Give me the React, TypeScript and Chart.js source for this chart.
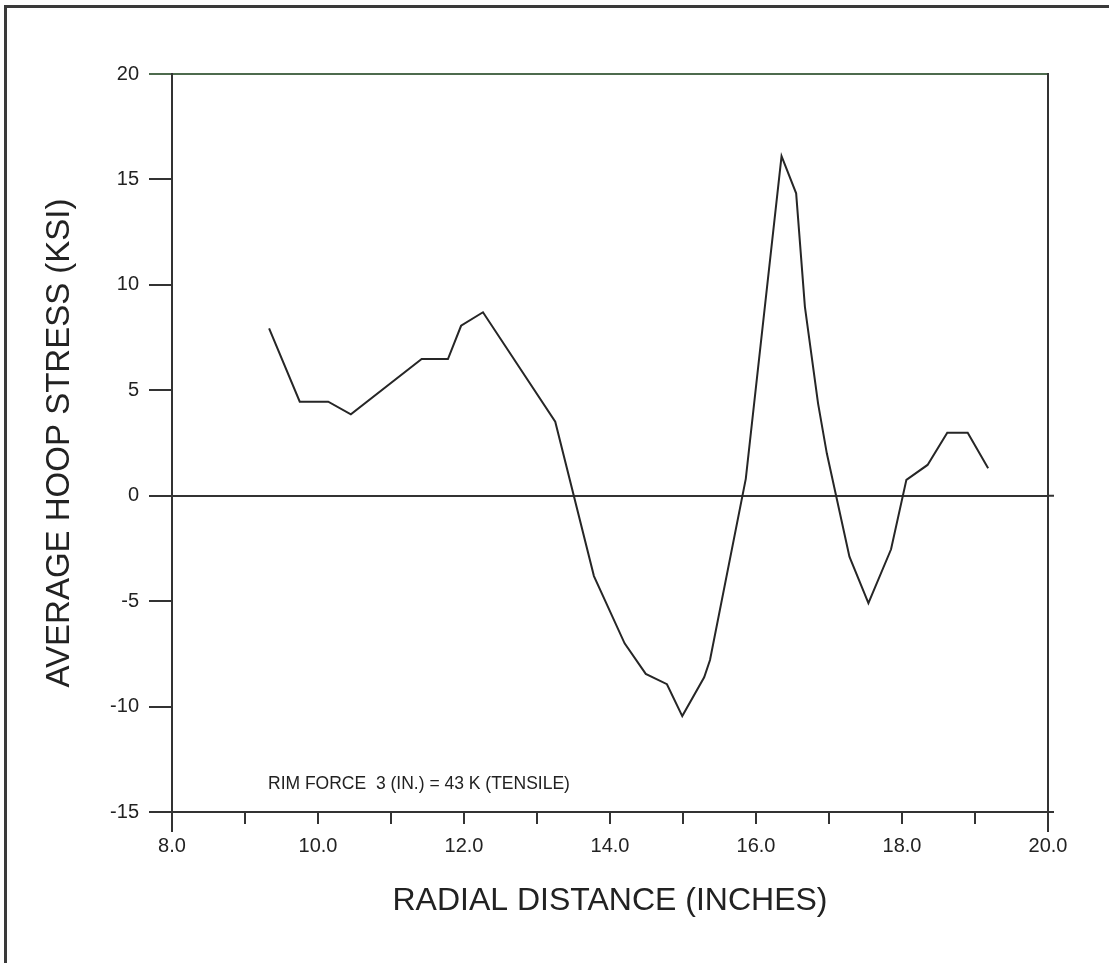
import React, { useEffect, useRef } from 'react';
import { Chart, registerables } from 'chart.js';

Chart.register(...registerables);

const radialDistance = [9.33, 9.75, 10.14, 10.45, 11.42, 11.78, 11.96, 12.26, 13.25, 13.78, 14.2, 14.49, 14.78, 14.99, 15.29, 15.37, 15.86, 16.35, 16.55, 16.67, 16.85, 16.97, 17.28, 17.54, 17.85, 18.06, 18.35, 18.62, 18.9, 19.18];
const hoopStress = [7.94, 4.46, 4.46, 3.86, 6.48, 6.48, 8.06, 8.7, 3.51, -3.81, -7.0, -8.45, -8.94, -10.45, -8.61, -7.79, 0.8, 16.1, 14.34, 8.96, 4.38, 2.01, -2.89, -5.1, -2.54, 0.75, 1.46, 2.99, 2.99, 1.3];

const xRange = [8, 20];
const yRange = [-15, 20];
const xLabelValues = [8, 10, 12, 14, 16, 18, 20];

const xTitle = 'RADIAL DISTANCE (INCHES)';
const yTitle = 'AVERAGE HOOP STRESS (KSI)';
const noteText = 'RIM FORCE  3 (IN.) = 43 K (TENSILE)';
const notePos = { x: 9.315, y: -13.7 };

const FONT = '"Liberation Sans", Arial, Helvetica, sans-serif';
const INK = '#222222';
const AXIS = '#333333';
const TOPLINE = '#4d6b4d';

const notePlugin = {
  id: 'rimNote',
  afterDatasetsDraw(chart: any) {
    const { ctx, scales, chartArea } = chart;
    const px = scales.x.getPixelForValue(notePos.x);
    const py = scales.y.getPixelForValue(notePos.y);
    ctx.save();
    ctx.font = `17.5px ${FONT}`;
    ctx.fillStyle = INK;
    ctx.textAlign = 'left';
    ctx.textBaseline = 'middle';
    ctx.fillText(noteText, px, py);
    // axis line overshoots, as on the original plotter output
    ctx.strokeStyle = AXIS;
    ctx.lineWidth = 2;
    ctx.beginPath();
    ctx.moveTo(chartArea.left, chartArea.bottom);
    ctx.lineTo(chartArea.left, chartArea.bottom + 20);
    ctx.moveTo(chartArea.right, chartArea.bottom);
    ctx.lineTo(chartArea.right, chartArea.bottom + 20);
    const zero = scales.y.getPixelForValue(0);
    ctx.moveTo(chartArea.right, zero);
    ctx.lineTo(chartArea.right + 6, zero);
    ctx.moveTo(chartArea.right, chartArea.bottom);
    ctx.lineTo(chartArea.right + 6, chartArea.bottom);
    ctx.stroke();
    ctx.restore();
  },
};

export default function App() {
  const canvasRef = useRef<HTMLCanvasElement | null>(null);

  useEffect(() => {
    const canvas = canvasRef.current;
    if (!canvas) return;
    const points = radialDistance.map((x, i) => ({ x, y: hoopStress[i] }));
    const chart = new Chart(canvas, {
      type: 'scatter',
      data: {
        datasets: [
          {
            data: points,
            showLine: true,
            borderColor: '#262626',
            borderWidth: 2,
            pointRadius: 0,
            tension: 0,
            fill: false,
          },
        ],
      },
      options: {
        responsive: false,
        animation: false,
        layout: { padding: { top: 74, left: 0, right: 0, bottom: 0 } },
        plugins: { legend: { display: false }, tooltip: { enabled: false } },
        scales: {
          x: {
            type: 'linear',
            position: 'bottom',
            min: xRange[0],
            max: xRange[1],
            afterFit: (s: any) => {
              s.height = 151;
            },
            ticks: {
              stepSize: 1,
              autoSkip: false,
              maxRotation: 0,
              padding: 10,
              color: INK,
              font: { family: FONT, size: 20 },
              callback: (v: any) => (xLabelValues.includes(Number(v)) ? Number(v).toFixed(1) : ''),
            },
            grid: { drawOnChartArea: false, tickLength: 12, color: AXIS, lineWidth: 2 },
            border: { color: AXIS, width: 2 },
            title: {
              display: true,
              text: xTitle,
              color: INK,
              font: { family: FONT, size: 32 },
              padding: { top: 0, bottom: 43 },
            },
          },
          y: {
            type: 'linear',
            position: 'left',
            min: yRange[0],
            max: yRange[1],
            afterFit: (s: any) => {
              s.width = 172;
            },
            ticks: {
              stepSize: 5,
              padding: 10,
              color: INK,
              font: { family: FONT, size: 20 },
            },
            grid: {
              drawOnChartArea: true,
              tickLength: 23,
              lineWidth: 2,
              color: (ctx: any) =>
                ctx.tick && ctx.tick.value === 0 ? AXIS : ctx.tick && ctx.tick.value === 20 ? TOPLINE : 'rgba(0,0,0,0)',
              tickColor: (ctx: any) => (ctx.tick && ctx.tick.value === 20 ? TOPLINE : AXIS),
            },
            border: { color: AXIS, width: 2 },
            title: {
              display: true,
              text: yTitle,
              color: INK,
              font: { family: FONT, size: 33 },
              padding: { top: 40, bottom: 0 },
            },
          },
          y2: {
            type: 'linear',
            position: 'right',
            min: yRange[0],
            max: yRange[1],
            afterFit: (s: any) => {
              s.width = 61;
            },
            ticks: { display: false, stepSize: 5 },
            grid: { drawOnChartArea: false, drawTicks: false },
            border: { color: AXIS, width: 2 },
          },
        },
      },
      plugins: [notePlugin],
    } as any);
    return () => chart.destroy();
  }, []);

  return (
    <div style={{ position: 'absolute', left: 0, top: 0, width: 1109, height: 963, background: '#ffffff' }}>
      <canvas ref={canvasRef} width={1109} height={963} style={{ display: 'block' }} />
      <div
        style={{
          position: 'absolute',
          left: 4,
          top: 5,
          width: 1102,
          height: 958,
          borderTop: '3px solid #3a3a3a',
          borderLeft: '3px solid #3a3a3a',
          borderRight: '1px solid #ececec',
          pointerEvents: 'none',
        }}
      />
    </div>
  );
}
